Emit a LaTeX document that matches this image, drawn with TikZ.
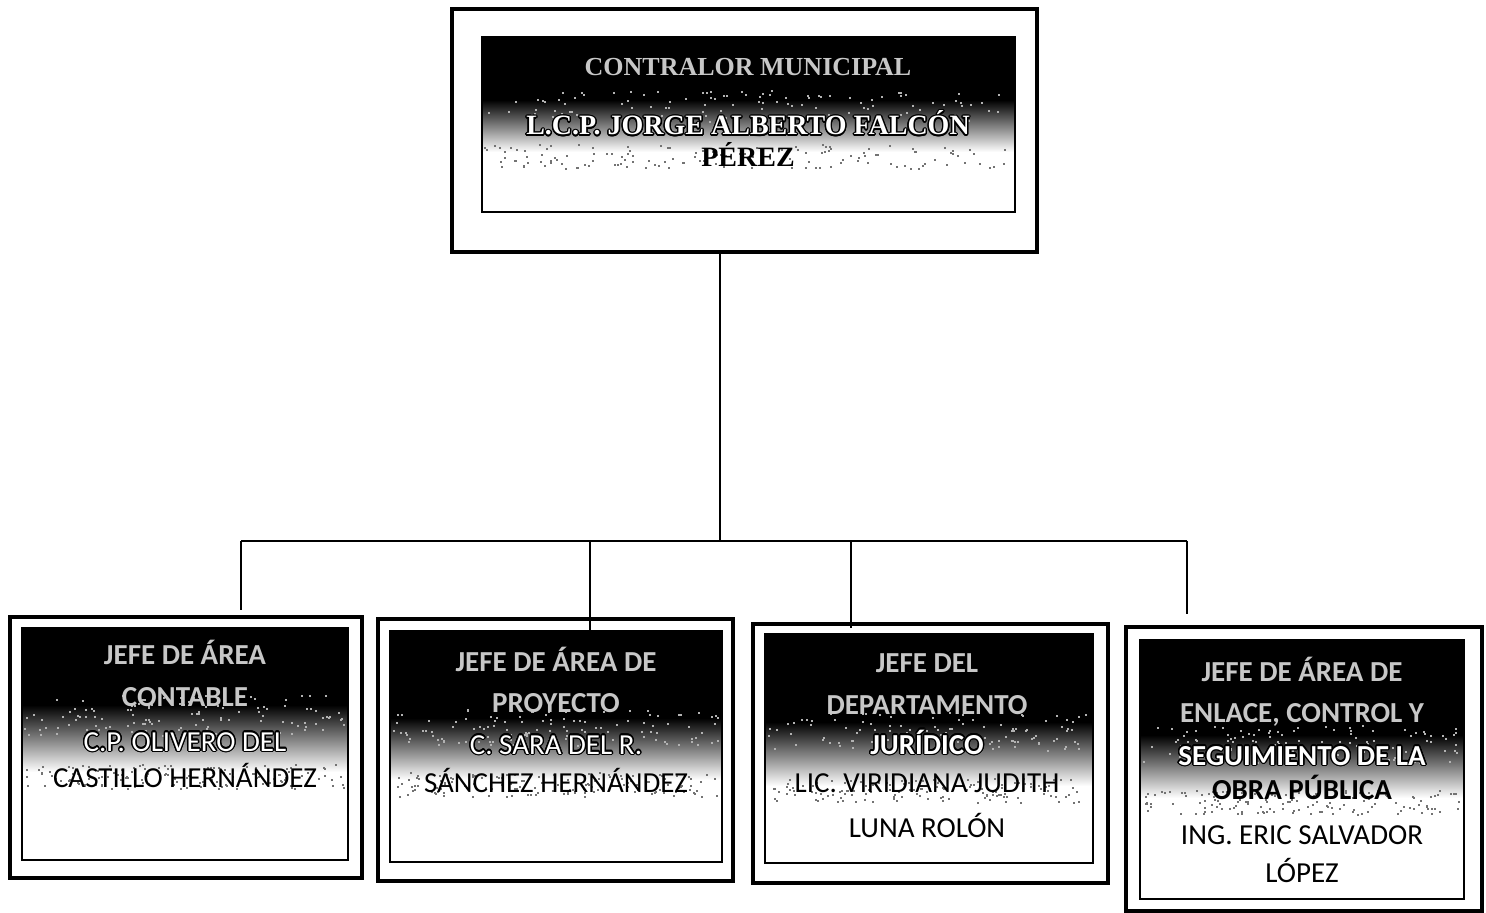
\documentclass[tikz,border=0pt]{standalone}
\usepackage{fontspec}
\newfontfamily\calfont{Carlito}
\newfontfamily\timesfont{Liberation Serif}
\usepackage[copies]{contour}
\contourlength{0.7pt}
\tikzset{
  outerbox/.style={draw=black, line width=1.6pt, fill=white, inner sep=0pt},
  topouter/.style={draw=black, line width=2.2pt, fill=white, inner sep=0pt},
  innerline/.style={draw=black, line width=0.9pt},
  conn/.style={draw=black, line width=0.8pt},
  txt/.style={anchor=base, inner sep=0pt, font=\calfont\fontsize{14.5}{17}\selectfont},
  hdr/.style={txt, text=white!78!black, font=\calfont\bfseries\fontsize{14.5}{17}\selectfont},
  hdrout/.style={txt, text=white},
  nm/.style={txt, text=black},
  ttxt/.style={anchor=base, inner sep=0pt, font=\timesfont\bfseries\fontsize{14}{17}\selectfont},
  speck/.style={fill=black!55},
}
\newcommand{\headfill}[6]{%
  \fill[black] (#1,#2) rectangle (#3,#4);
  \shade[top color=black, bottom color=white] (#1,#4) rectangle (#3,#5);
  \foreach \k in {1,...,140}{%
    \pgfmathsetmacro\xx{#1+2+rnd*(#3-#1-6)}%
    \pgfmathsetmacro\yy{#5-8+rnd*24}%
    \fill[speck] (\xx,\yy) rectangle ++(2,2);
  }
  \foreach \k in {1,...,120}{%
    \pgfmathsetmacro\xx{#1+2+rnd*(#3-#1-6)}%
    \pgfmathsetmacro\yy{#4-10+rnd*(#5-#4)*0.6}%
    \fill[white!70!black] (\xx,\yy) rectangle ++(2,2);
  }
  \draw[innerline] (#1,#2) rectangle (#3,#6);
}
\begin{document}
\begin{tikzpicture}[x=0.5pt,y=-0.5pt]
\pgfmathsetseed{7}
\useasboundingbox (0,0) rectangle (1486,913);
\fill[white] (0,0) rectangle (1486,913);

% ---------- top box ----------
\node[topouter, minimum width=292.5pt, minimum height=121.5pt] (top) at (744.5,130.5) {};
\headfill{482}{37}{1015}{100}{152}{212}
\node[ttxt, text=white!78!black, font=\timesfont\bfseries\fontsize{13}{16}\selectfont] (t1) at (748,76) {CONTRALOR MUNICIPAL};
\node[ttxt, text=white] (t2) at (748,135) {\contour{black}{L.C.P. JORGE ALBERTO FALCÓN}};
\node[ttxt, text=black] (t3) at (748,167) {PÉREZ};

% ---------- bottom boxes ----------
\node[outerbox, minimum width=176pt, minimum height=130.5pt] (b1) at (186,747.5) {};
\headfill{22}{628}{348}{705}{772}{860}
\node[hdr] (b1l1) at (185,664) {JEFE DE ÁREA};
\node[hdr] (b1l2) at (185,706) {CONTABLE};
\node[hdrout] (b1l3) at (185,751) {\contour{black}{C.P. OLIVERO DEL}};
\node[nm] (b1l4) at (185,787) {CASTILLO HERNÁNDEZ};

\node[outerbox, minimum width=177.5pt, minimum height=131pt] (b2) at (555.5,750) {};
\headfill{390}{631}{722}{718}{780}{862}
\node[hdr] (b2l1) at (556,671) {JEFE DE ÁREA DE};
\node[hdr] (b2l2) at (556,712) {PROYECTO};
\node[hdrout] (b2l3) at (556,754) {\contour{black}{C. SARA DEL R.}};
\node[nm] (b2l4) at (556,792) {SÁNCHEZ HERNÁNDEZ};

\node[outerbox, minimum width=177.5pt, minimum height=129.5pt] (b3) at (930.5,753.5) {};
\headfill{765}{634}{1093}{722}{786}{863}
\node[hdr] (b3l1) at (927,672) {JEFE DEL};
\node[hdr] (b3l2) at (927,714) {DEPARTAMENTO};
\node[hdrout, font=\calfont\bfseries\fontsize{14.5}{17}\selectfont] (b3l3) at (927,754) {\contour{black}{JURÍDICO}};
\node[nm] (b3l4) at (927,792) {LIC. VIRIDIANA JUDITH};
\node[nm] (b3l5) at (927,837) {LUNA ROLÓN};

\node[outerbox, minimum width=178pt, minimum height=142pt] (b4) at (1304,769) {};
\headfill{1140}{640}{1464}{735}{798}{899}
\node[hdr] (b4l1) at (1302,681) {JEFE DE ÁREA DE};
\node[hdr] (b4l2) at (1302,722) {ENLACE, CONTROL Y};
\node[hdrout, font=\calfont\bfseries\fontsize{14.5}{17}\selectfont] (b4l3) at (1302,765) {\contour{black}{SEGUIMIENTO DE LA}};
\node[nm, font=\calfont\bfseries\fontsize{14.5}{17}\selectfont] (b4l4) at (1302,799) {OBRA PÚBLICA};
\node[nm] (b4l5) at (1302,844) {ING. ERIC SALVADOR};
\node[nm] (b4l6) at (1302,882) {LÓPEZ};

% ---------- connectors ----------
\coordinate (bus) at (720,541);
\coordinate (j1) at (241,541);
\coordinate (j2) at (590,541);
\coordinate (j3) at (851,541);
\coordinate (j4) at (1187,541);
\coordinate (e1) at (241,610);
\coordinate (e2) at (590,631);
\coordinate (e3) at (851,628);
\coordinate (e4) at (1187,614);
\draw[conn] (top.south -| bus) -- (bus);
\draw[conn] (j1) -- (j4);
\draw[conn] (j1) -- (e1);
\draw[conn] (j2) -- (e2);
\draw[conn] (j3) -- (e3);
\draw[conn] (j4) -- (e4);
\end{tikzpicture}
\end{document}
